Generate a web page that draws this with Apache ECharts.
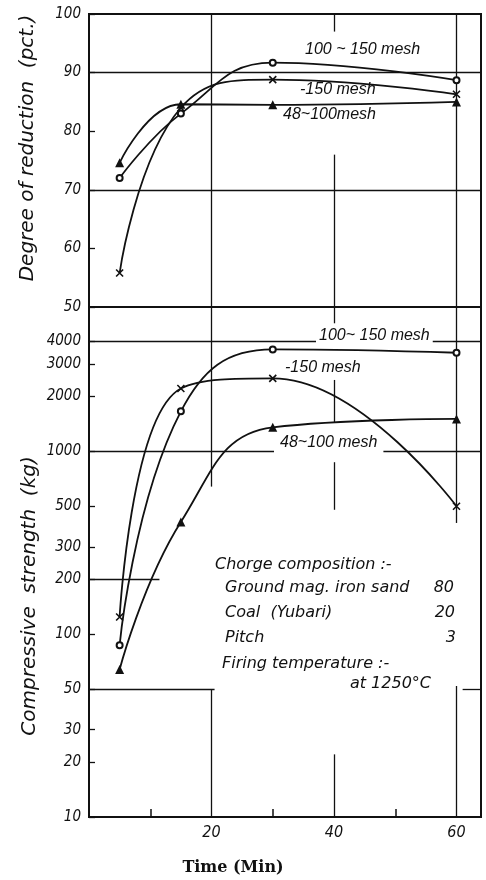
<!DOCTYPE html>
<html>
<head>
<meta charset="utf-8">
<script src="https://cdn.jsdelivr.net/npm/echarts@6/dist/echarts.min.js"></script>
<style>html,body{margin:0;padding:0;background:#fff;}#c{width:486px;height:880px;}</style>
</head>
<body>
<div id="c"></div>
<script>
// ---- data ----
const times = [5, 15, 30, 60];
const reduction100to150 = [72, 83, 91.7, 88.7];
const reductionMinus150 = [55.8, 84, 88.8, 86.3];
const reduction48to100 = [74.6, 84.6, 84.5, 85];
const strength100to150 = [87, 1650, 3600, 3450];
const strengthMinus150 = [124, 2200, 2500, 500];
const strength48to100 = [64, 410, 1350, 1500];
const seriesNames = ['100~150 mesh', '-150 mesh', '48~100 mesh'];
const yTicksTop = [50, 60, 70, 80, 90, 100];
const yTicksBottom = [10, 20, 30, 50, 100, 200, 300, 500, 1000, 2000, 3000, 4000];
const xTickLabels = [20, 40, 60];
const xMinorTicks = [10, 30, 50];

// ---- styling ----
const INK = '#111';
const tickFont = "'Liberation Sans Narrow','DejaVu Sans Condensed','Liberation Sans',sans-serif";
const textFont = "'Liberation Sans','DejaVu Sans',sans-serif";
const wideFont = "'DejaVu Sans','Liberation Sans',sans-serif";
const XMAX = 64;
const LOGMIN = 1, LOGMAX = 3.788;
const lg = v => Math.log10(v);

const symCircle = {symbol: 'emptyCircle', symbolSize: 6, itemStyle: {color: INK, borderWidth: 1.4}};
const symCross = {symbol: 'path://M0,0L10,10M10,0L0,10', symbolSize: 7, itemStyle: {color: INK, borderColor: INK, borderWidth: 1.6}};
const symTri = {symbol: 'triangle', symbolSize: 9, itemStyle: {color: INK}};
const syms = [symCircle, symCross, symTri];

// gridline segments (layout only)
const topSegs = [
  [[0, 90], [XMAX, 90]], [[0, 70], [XMAX, 70]],
  [[20, 50], [20, 100]], [[40, 50], [40, 76]], [[40, 97], [40, 100]], [[60, 50], [60, 100]]
];
const botSegsRaw = [
  [[0, 4000], [XMAX, 4000]], [[0, 1000], [XMAX, 1000]], [[0, 200], [11.5, 200]],
  [[0, 50], [20.5, 50]], [[61, 50], [XMAX, 50]],
  [[20, 10], [20, 50]], [[20, 640], [20, 6140]],
  [[40, 10], [40, 22]], [[40, 478], [40, 870]], [[40, 1430], [40, 2450]], [[40, 5000], [40, 6140]],
  [[60, 10], [60, 52]], [[60, 405], [60, 6140]]
];
const botSegs = botSegsRaw.map(s => s.map(p => [p[0], Math.min(lg(p[1]), LOGMAX)]));

function markSegs(segs) {
  return {
    silent: true, symbol: 'none', animation: false,
    label: {show: false},
    lineStyle: {color: INK, width: 1.3, type: 'solid'},
    emphasis: {disabled: true},
    data: segs.map(s => [{coord: s[0]}, {coord: s[1]}])
  };
}

function mkSeries(values, idx, gridIdx, transform, segs) {
  const s = Object.assign({
    type: 'line', name: seriesNames[idx] + (gridIdx ? ' (strength)' : ''),
    xAxisIndex: gridIdx, yAxisIndex: gridIdx,
    data: times.map((t, i) => [t, transform(values[i])]),
    smooth: 0.45, animation: false, z: 5,
    lineStyle: {color: INK, width: 1.8}
  }, syms[idx]);
  if (segs) s.markLine = markSegs(segs);
  return s;
}

const chart = echarts.init(document.getElementById('c'), null, {renderer: 'canvas'});

const axisLabelStyle = {color: INK, fontStyle: 'italic', fontFamily: tickFont, fontSize: 15};

function txt(x, y, text, size, opts) {
  return Object.assign({type: 'text', x: x, y: y, z: 100,
    style: Object.assign({text: text, font: 'italic ' + size + 'px ' + ((opts && opts.family) || textFont), fill: INK, verticalAlign: 'middle'}, (opts && opts.style) || {})},
    (opts && opts.el) || {});
}

const option = {
  backgroundColor: '#fff',
  animation: false,
  grid: [
    {left: 89, top: 14, width: 392, height: 293, show: true, borderColor: INK, borderWidth: 2, backgroundColor: 'transparent'},
    {left: 89, top: 307, width: 392, height: 510, show: true, borderColor: INK, borderWidth: 2, backgroundColor: 'transparent'}
  ],
  xAxis: [
    {type: 'value', gridIndex: 0, min: 0, max: XMAX, interval: 20,
     axisLine: {show: true, lineStyle: {color: INK, width: 2}}, axisTick: {show: false},
     axisLabel: {show: false}, splitLine: {show: false}},
    {type: 'value', gridIndex: 1, min: 0, max: XMAX, interval: 20,
     axisLine: {show: true, lineStyle: {color: INK, width: 2}},
     axisTick: {show: true, inside: true, length: 8, customValues: xMinorTicks, lineStyle: {color: INK, width: 1.5}},
     axisLabel: Object.assign({}, axisLabelStyle, {customValues: xTickLabels, margin: 8, fontSize: 16}),
     splitLine: {show: false}}
  ],
  yAxis: [
    {type: 'value', gridIndex: 0, min: 50, max: 100, interval: 10,
     axisLine: {show: true, lineStyle: {color: INK, width: 2}},
     axisTick: {show: true, inside: true, length: 6, customValues: yTicksTop, lineStyle: {color: INK, width: 1.3}},
     axisLabel: Object.assign({customValues: yTicksTop, margin: 8}, axisLabelStyle),
     splitLine: {show: false}},
    {type: 'value', gridIndex: 1, min: LOGMIN, max: LOGMAX,
     axisLine: {show: true, lineStyle: {color: INK, width: 2}},
     axisTick: {show: true, inside: true, length: 6, customValues: yTicksBottom.map(lg), lineStyle: {color: INK, width: 1.3}},
     axisLabel: Object.assign({customValues: yTicksBottom.map(lg), margin: 8,
       formatter: v => String(Math.round(Math.pow(10, v)))}, axisLabelStyle),
     splitLine: {show: false}}
  ],
  series: [
    mkSeries(reduction100to150, 0, 0, v => v, topSegs),
    mkSeries(reductionMinus150, 1, 0, v => v),
    mkSeries(reduction48to100, 2, 0, v => v),
    mkSeries(strength100to150, 0, 1, lg, botSegs),
    mkSeries(strengthMinus150, 1, 1, lg),
    mkSeries(strength48to100, 2, 1, lg)
  ],
  graphic: [
    // curve labels, top panel
    txt(305, 50, '100 ~ 150 mesh', 16),
    txt(300, 90, '-150 mesh', 16),
    txt(283, 115, '48~100mesh', 16),
    // curve labels, bottom panel
    txt(316, 336, '100~ 150 mesh', 16, {style: {backgroundColor: '#fff', padding: [0, 3]}}),
    txt(285, 368, '-150 mesh', 16),
    txt(274, 443, '48~100 mesh', 16, {style: {backgroundColor: '#fff', padding: [2, 6]}}),
    // composition block
    txt(215, 565, 'Chorge composition :-', 16, {family: wideFont}),
    txt(225, 588, 'Ground mag. iron sand', 16, {family: wideFont}),
    txt(454, 588, '80', 16, {family: wideFont, style: {align: 'right'}}),
    txt(225, 613, 'Coal  (Yubari)', 16, {family: wideFont}),
    txt(455, 613, '20', 16, {family: wideFont, style: {align: 'right'}}),
    txt(225, 638, 'Pitch', 16, {family: wideFont}),
    txt(456, 638, '3', 16, {family: wideFont, style: {align: 'right'}}),
    txt(222, 664, 'Firing temperature :-', 16, {family: wideFont}),
    txt(431, 684, 'at 1250°C', 16, {family: wideFont, style: {align: 'right'}}),
    // axis titles
    txt(28, 148, 'Degree of reduction  (pct.)', 20, {family: wideFont, style: {align: 'center'}, el: {rotation: Math.PI / 2}}),
    txt(30, 596, 'Compressive  strength  (kg)', 20, {family: wideFont, style: {align: 'center'}, el: {rotation: Math.PI / 2}}),
    {type: 'text', x: 233, y: 868, z: 100, style: {text: 'Time (Min)', font: "bold 16px 'DejaVu Serif','Liberation Serif',serif", fill: INK, align: 'center', verticalAlign: 'middle'}}
  ]
};
chart.setOption(option);
</script>
</body>
</html>
